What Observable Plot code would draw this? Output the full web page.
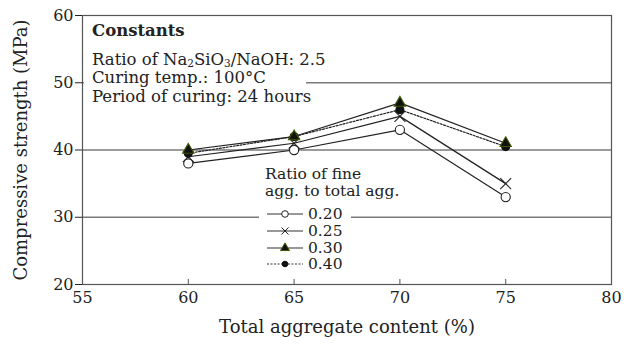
<!DOCTYPE html>
<html>
<head>
<meta charset="utf-8">
<script src="https://cdn.jsdelivr.net/npm/d3@7"></script>
<script src="https://cdn.jsdelivr.net/npm/@observablehq/plot@0.6"></script>
<style>
  html, body { margin: 0; padding: 0; background: white; }
  #wrap { position: relative; width: 628px; height: 346px; font-family: "DejaVu Serif", serif; color: #222; }
  #wrap svg [aria-label="x-axis label"] text, #wrap svg [aria-label="y-axis label"] text { font-size: 18px; }
  .note { position: absolute; background: white; font-size: 16.5px; line-height: 18.6px; white-space: nowrap; }
  .note .ln { height: 18.6px; overflow: visible; }
  .note sub { font-size: 10.5px; line-height: 10px; vertical-align: -2px; }
  .legtitle { position: absolute; font-size: 15.5px; line-height: 17px; white-space: nowrap; }
  .legrows { position: absolute; background: white; font-size: 15.5px; }
  .row { display: flex; align-items: center; height: 16.7px; }
  .row svg { display: block; margin-right: 5px; }
</style>
</head>
<body>
<div id="wrap"></div>
<script>
// ---- data ----
const xValues = [60, 65, 70, 75];
const seriesNames = ["0.20", "0.25", "0.30", "0.40"];
const s020 = [38, 40, 43, 33];
const s025 = [39, 41, 45, 35];
const s030 = [40, 42, 47, 41];
const s040 = [39.5, 42, 46, 40.5];
const xTicks = [55, 60, 65, 70, 75, 80];
const yTicks = [20, 30, 40, 50, 60];
const gridValues = [30, 40, 50];
const constantsTitle = "Constants";
const constantsLines = ["Ratio of Na<sub>2</sub>SiO<sub>3</sub>/NaOH: 2.5", "Curing temp.: 100°C", "Period of curing: 24 hours"];
const legendTitle = ["Ratio of fine", "agg. to total agg."];

const seriesValues = [s020, s025, s030, s040];
const styles = {
  "0.20": {symbol: "circle", fill: "white", stroke: "#222", r: 4.6, dash: null},
  "0.25": {symbol: "times", fill: "none", stroke: "#222", r: 5, dash: null},
  "0.30": {symbol: "triangle", fill: "#111", stroke: "#3d5a00", r: 4.2, dash: null},
  "0.40": {symbol: "circle", fill: "#111", stroke: "#111", r: 4, dash: "2,1.5"}
};
const rows = [];
seriesNames.forEach((n, i) => xValues.forEach((x, j) => rows.push({series: n, x, y: seriesValues[i][j]})));

const drawOrder = ["0.20", "0.25", "0.40", "0.30"];
const marks = [
  Plot.ruleY(gridValues, {stroke: "#7a7a7a", strokeWidth: 1.3}),
  Plot.frame({stroke: "#555", strokeWidth: 1.2}),
  Plot.tickX(xTicks, {x: d => d, insetTop: 264, stroke: "#555"}),
  Plot.axisX({ticks: xTicks, tickSize: 0, tickPadding: 7, fontSize: 16, label: "Total aggregate content (%)", labelAnchor: "center", labelArrow: "none", labelOffset: 48}),
  Plot.axisY({ticks: yTicks, tickSize: 7, tickPadding: 2, fontSize: 16, label: "Compressive strength (MPa)", labelAnchor: "center", labelArrow: "none", labelOffset: 68})
];
for (const n of drawOrder) {
  const st = styles[n];
  const data = rows.filter(d => d.series === n);
  marks.push(Plot.line(data, {x: "x", y: "y", stroke: "#222", strokeWidth: 1.2, strokeDasharray: st.dash}));
}
for (const n of drawOrder) {
  const st = styles[n];
  const data = rows.filter(d => d.series === n);
  marks.push(Plot.dot(data, {x: "x", y: "y", symbol: () => st.symbol, r: st.r, fill: st.fill, stroke: st.stroke, strokeWidth: 1.1}));
}

const chart = Plot.plot({
  width: 628, height: 346,
  marginLeft: 82, marginRight: 17, marginTop: 15, marginBottom: 62,
  x: {domain: [55, 80]},
  y: {domain: [20, 60]},
  style: {fontFamily: "DejaVu Serif, serif", fontSize: "16px", color: "#222", background: "white", overflow: "visible"},
  marks
});
const wrap = document.getElementById("wrap");
wrap.appendChild(chart);

// constants annotation
const note = document.createElement("div");
note.className = "note";
note.style.left = "84px"; note.style.top = "22px"; note.style.width = "214px"; note.style.paddingLeft = "8px";
note.innerHTML = `<div style="font-weight:bold;margin-bottom:10px">${constantsTitle}</div>` + constantsLines.map(l => `<div class="ln">${l}</div>`).join("");
wrap.appendChild(note);

// legend
const lt = document.createElement("div");
lt.className = "legtitle";
lt.style.left = "265px"; lt.style.top = "166px";
lt.innerHTML = legendTitle.map(l => `<div>${l}</div>`).join("");
wrap.appendChild(lt);

const lr = document.createElement("div");
lr.className = "legrows";
lr.style.left = "259px"; lr.style.top = "206px"; lr.style.paddingLeft = "8px"; lr.style.paddingRight = "8px";
for (const n of seriesNames) {
  const st = styles[n];
  const row = document.createElement("div");
  row.className = "row";
  const svg = d3.create("svg").attr("width", 36).attr("height", 12);
  svg.append("line").attr("x1", 0).attr("x2", 36).attr("y1", 6).attr("y2", 6)
    .attr("stroke", "#333").attr("stroke-width", 1.1).attr("stroke-dasharray", st.dash);
  const sym = {circle: d3.symbolCircle, times: d3.symbolTimes, triangle: d3.symbolTriangle}[st.symbol];
  const sz = n === "0.40" ? 2.8 : 3.3;
  svg.append("path").attr("transform", "translate(18,6)")
    .attr("d", d3.symbol(sym, Math.PI * sz * sz)())
    .attr("fill", st.fill).attr("stroke", st.stroke).attr("stroke-width", 1);
  row.appendChild(svg.node());
  const t = document.createElement("span");
  t.textContent = n;
  row.appendChild(t);
  lr.appendChild(row);
}
wrap.appendChild(lr);
</script>
</body>
</html>
